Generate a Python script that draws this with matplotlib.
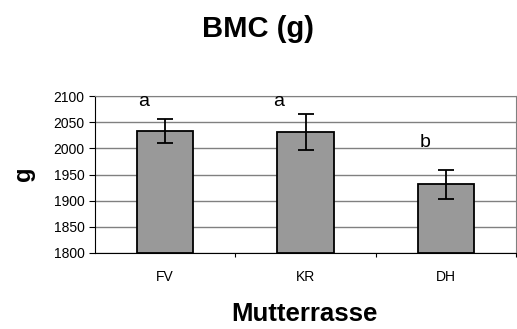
import numpy as np
import matplotlib.pyplot as plt

plt.rcParams['font.family'] = ['Liberation Sans', 'DejaVu Sans']

# mean bone mineral content per breed, with error bars and group letters
rassen = ["FV", "KR", "DH"]
bmc = [2034, 2031, 1931]
fehler = [23, 34, 27]
buchstaben = ["a", "a", "b"]
buchstaben_x = [-0.15, -0.19, -0.15]
buchstaben_y = [2089, 2089, 2011]

fig = plt.figure(figsize=(5.17, 3.29), dpi=100)
ax = fig.add_axes([95/517, 1 - 253/329, 421/517, 157/329])

x = np.arange(len(rassen))
ax.bar(x, [b - 1800 for b in bmc], bottom=1800, width=0.4, color="#999999",
       edgecolor="black", linewidth=1.3, zorder=3)
ax.errorbar(x, bmc, yerr=fehler, fmt="none", ecolor="black", elinewidth=1.3,
            capsize=5.5, capthick=1.3, zorder=4)

for xi, dx, txt, yi in zip(x, buchstaben_x, buchstaben, buchstaben_y):
    ax.text(xi + dx, yi, txt, fontsize=14, ha="center", va="center")

ax.set_xlim(-0.5, 2.5)
ax.set_ylim(1800, 2100)
ax.set_yticks(range(1800, 2101, 50))
ax.yaxis.grid(True, color="#808080", linewidth=1)
ax.set_axisbelow(True)

# category ticks between the bars, labels centred under the bars
ax.set_xticks([0.5, 1.5, 2.5])
ax.set_xticklabels([])
ax.set_xticks(x, minor=True)
ax.set_xticklabels(rassen, minor=True)
ax.tick_params(axis="x", which="minor", length=0, pad=12, labelsize=10)
ax.tick_params(axis="x", which="major", length=3, direction="out")
ax.tick_params(axis="y", length=4.5, labelsize=10, pad=3)

for s in ["top", "right"]:
    ax.spines[s].set_color("#808080")
for s in ["left", "bottom"]:
    ax.spines[s].set_color("black")

fig.text(258/517, 1 - 37/329, "BMC (g)", fontsize=21, fontweight="bold",
         ha="center", va="baseline")
fig.text(23/517, 1 - 174/329, "g", fontsize=17, fontweight="bold",
         rotation=90, ha="center", va="center")
# x axis title sits under the middle of the plot area
ax.set_xlabel("")
fig.text(304/517, 1 - 321/329, "Mutterrasse", fontsize=18.5, fontweight="bold",
         ha="center", va="baseline")

fig.savefig("out.png", dpi=100)
